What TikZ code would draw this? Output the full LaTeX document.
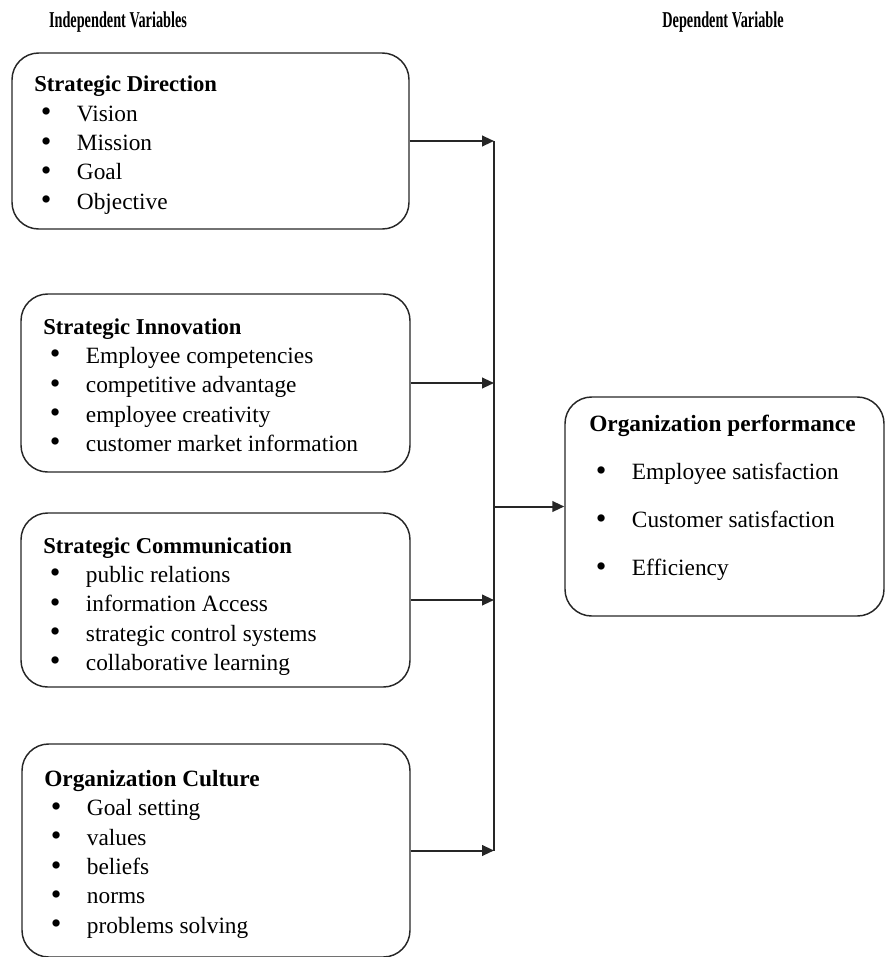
\documentclass[tikz,border=0pt]{standalone}
\usepackage{fontspec}
\setmainfont{Liberation Serif}
\usepackage{graphicx}
\usetikzlibrary{arrows.meta,fit}

\newcommand{\blt}[1]{\hspace*{5pt}\makebox[27pt][l]{\raisebox{-0.05ex}{\scalebox{1.3}{\textbullet}}}#1}
\newcommand{\hdr}[1]{{\fontsize{17}{22}\selectfont\bfseries #1}}

\begin{document}
\begin{tikzpicture}[x=0.75pt,y=-0.75pt,
    frame/.style={draw=black!85, line width=1.1pt, rounded corners=20pt, inner sep=0pt},
    list/.style={anchor=north west, inner sep=0pt, align=left, font=\fontsize{17.5}{22}\selectfont},
    title/.style={inner sep=0pt},
    link/.style={draw=black!85, line width=1.5pt, -{Triangle[length=9pt,width=8pt]}}]
    \useasboundingbox (0,0) rectangle (885,957);

    \node[title] (indep) at (118,22) {\scalebox{0.63}[1]{\fontsize{17}{20}\selectfont\bfseries Independent Variables}};
    \node[title] (dep) at (723,22) {\scalebox{0.63}[1]{\fontsize{17}{20}\selectfont\bfseries Dependent Variable}};

    \node[frame, fit={(12,53) (409,229)}] (sd) {};
    \node[frame, fit={(21,294) (410,472)}] (si) {};
    \node[frame, fit={(21,513) (410,687)}] (sc) {};
    \node[frame, fit={(22,744) (410,957)}] (oc) {};
    \node[frame, fit={(565,397) (884,616)}] (op) {};

    \node[list] (sdtext) at (34,76) {\hdr{Strategic Direction}\\ \blt{Vision}\\ \blt{Mission}\\ \blt{Goal}\\ \blt{Objective}};
    \node[list] (sitext) at (43,318) {\hdr{Strategic Innovation}\\ \blt{Employee  competencies}\\ \blt{competitive  advantage}\\ \blt{employee  creativity}\\ \blt{customer market information}};
    \node[list] (sctext) at (43,537) {\hdr{Strategic Communication}\\ \blt{public relations}\\ \blt{information  Access}\\ \blt{strategic  control systems}\\ \blt{collaborative  learning}};
    \node[list] (octext) at (44,770) {{\fontsize{17.5}{22}\selectfont\bfseries Organization  Culture}\\ \blt{Goal setting}\\ \blt{values}\\ \blt{beliefs}\\ \blt{norms}\\ \blt{problems  solving}};
    \node[list, font=\fontsize{17.5}{36}\selectfont] (optext) at (589,415) {{\bfseries Organization  performance}\\ \blt{Employee satisfaction}\\ \blt{Customer satisfaction}\\ \blt{Efficiency}};

    \coordinate (bus) at (494,0);
    \foreach \b in {sd,si,sc,oc}
        \draw[link] (\b.east) -- (\b.east -| bus);
    \draw[draw=black!85, line width=1.5pt] (sd.east -| bus) -- (oc.east -| bus);
    \draw[link] (bus |- op.west) -- (op.west);
\end{tikzpicture}
\end{document}
